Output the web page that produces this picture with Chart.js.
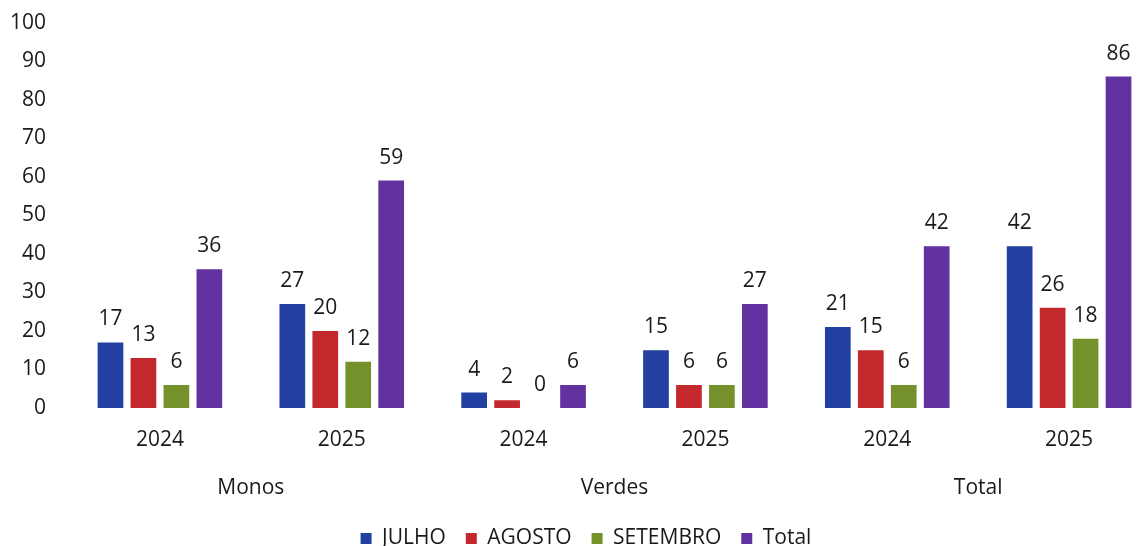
<!DOCTYPE html>
<html>
<head>
<meta charset="utf-8">
<script src="https://cdn.jsdelivr.net/npm/chart.js@4/dist/chart.umd.min.js"></script>
<style>
  html, body { margin: 0; padding: 0; background: #fff; overflow: hidden; }
  #wrap { width: 1206px; height: 572px; margin-top: -13px; }
</style>
</head>
<body>
<div id="wrap"><canvas id="myChart"></canvas></div>
<script>
const years = ['2024', '2025', '2024', '2025', '2024', '2025'];
const groups = ['Monos', 'Verdes', 'Total'];
const julho = [17, 27, 4, 15, 21, 42];
const agosto = [13, 20, 2, 6, 15, 26];
const setembro = [6, 12, 0, 6, 6, 18];
const total = [36, 59, 6, 27, 42, 86];
const yTicks = { min: 0, max: 100, step: 10 };

const FONT = "'Open Sans', sans-serif";
const SIZE = 21;
const TEXT = '#1a1a1a';

// value labels above each bar
const barLabels = {
  id: 'barLabels',
  afterDatasetsDraw(chart) {
    const { ctx } = chart;
    ctx.save();
    ctx.font = `${SIZE}px ${FONT}`;
    ctx.fillStyle = TEXT;
    ctx.textAlign = 'center';
    ctx.textBaseline = 'alphabetic';
    chart.data.datasets.forEach((ds, i) => {
      const meta = chart.getDatasetMeta(i);
      meta.data.forEach((bar, j) => {
        ctx.fillText(ds.data[j], bar.x, bar.y - 17);
      });
    });
    ctx.restore();
  },
};

const makeSet = (label, data, color) => ({
  label,
  data,
  backgroundColor: color,
  borderWidth: 0,
  barPercentage: 0.78,
  categoryPercentage: 0.725,
});

new Chart('myChart', {
  type: 'bar',
  data: {
    labels: years,
    datasets: [
      makeSet('JULHO', julho, '#2140a2'),
      makeSet('AGOSTO', agosto, '#c3282d'),
      makeSet('SETEMBRO', setembro, '#74912c'),
      makeSet('Total', total, '#6132a0'),
    ],
  },
  options: {
    responsive: true,
    maintainAspectRatio: false,
    animation: false,
    layout: { padding: { left: 12, right: 46, top: 7, bottom: 0 } },
    plugins: {
      tooltip: { enabled: false },
      legend: {
        display: true,
        position: 'bottom',
        labels: {
          boxWidth: 11,
          boxHeight: 11,
          padding: 20,
          color: TEXT,
          font: { family: FONT, size: SIZE },
        },
      },
    },
    scales: {
      y: {
        min: yTicks.min,
        max: yTicks.max,
        grid: { display: false, drawTicks: false },
        border: { display: false },
        ticks: {
          stepSize: yTicks.step,
          padding: 23,
          color: TEXT,
          font: { family: FONT, size: SIZE },
        },
        afterFit: (scale) => { scale.width = 57; },
      },
      x: {
        weight: 0,
        grid: { display: false, drawTicks: false },
        border: { display: false },
        ticks: { padding: 19, color: TEXT, font: { family: FONT, size: SIZE } },
        afterFit: (scale) => { scale.height = 48; },
      },
      x2: {
        type: 'category',
        position: 'bottom',
        weight: 1,
        labels: groups,
        offset: true,
        grid: { display: false, drawTicks: false },
        border: { display: false },
        ticks: { padding: 19, color: TEXT, font: { family: FONT, size: SIZE } },
        afterFit: (scale) => { scale.height = 52; },
      },
    },
  },
  plugins: [barLabels],
});
</script>
</body>
</html>
